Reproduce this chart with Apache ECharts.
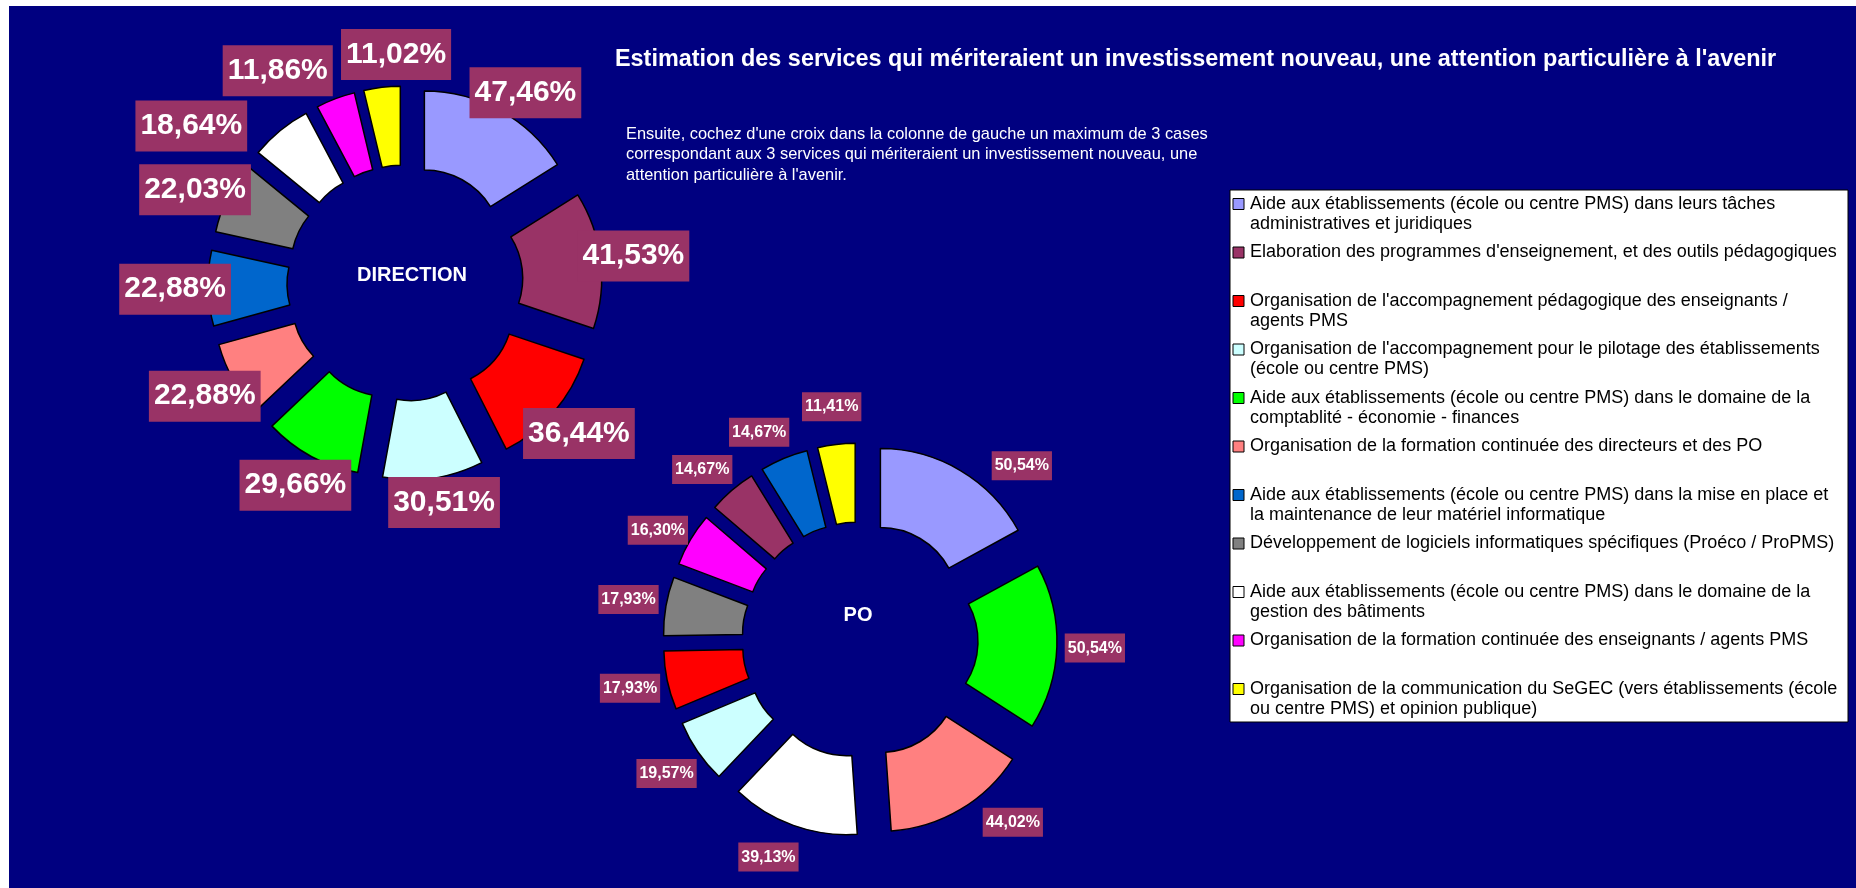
<!DOCTYPE html>
<html>
<head>
<meta charset="utf-8">
<title>Estimation des services</title>
<script src="https://cdn.jsdelivr.net/npm/echarts@6/dist/echarts.min.js"></script>
<style>
  html, body { margin: 0; padding: 0; background: #fff; }
  .page { position: relative; width: 1856px; height: 888px; background: #fff; }
  .navy { position: absolute; left: 9px; top: 6px; right: 0; bottom: 0; background: #000080; }
  #chart { position: absolute; left: 0; top: 0; width: 1856px; height: 888px; }
</style>
</head>
<body>
<div class="page">
  <div class="navy"></div>
  <div id="chart"></div>
</div>
<script>
  // services, in legend order (line breaks as in the legend box)
  var services = [
    "Aide aux établissements (école ou centre PMS) dans leurs tâches\nadministratives et juridiques",
    "Elaboration des programmes d'enseignement, et des outils pédagogiques",
    "Organisation de l'accompagnement pédagogique des enseignants /\nagents PMS",
    "Organisation de l'accompagnement pour le pilotage des établissements\n(école ou centre PMS)",
    "Aide aux établissements (école ou centre PMS) dans le domaine de la\ncomptablité - économie - finances",
    "Organisation de la formation continuée des directeurs et des PO",
    "Aide aux établissements (école ou centre PMS) dans la mise en place et\nla maintenance de leur matériel informatique",
    "Développement de logiciels informatiques spécifiques (Proéco / ProPMS)",
    "Aide aux établissements (école ou centre PMS) dans le domaine de la\ngestion des bâtiments",
    "Organisation de la formation continuée des enseignants / agents PMS",
    "Organisation de la communication du SeGEC (vers établissements (école\nou centre PMS) et opinion publique)"
  ];
  var colors = ['#9999FF', '#993366', '#FF0000', '#CCFFFF', '#00FF00', '#FF8080',
                '#0066CC', '#808080', '#FFFFFF', '#FF00FF', '#FFFF00'];

  // % of answers, same order as services
  var directionValues = [47.46, 41.53, 36.44, 30.51, 29.66, 22.88, 22.88, 22.03, 18.64, 11.86, 11.02];
  var poValues = [50.54, 14.67, 17.93, 19.57, 50.54, 44.02, 14.67, 17.93, 39.13, 16.30, 11.41];

  var titleText = "Estimation des services qui mériteraient un investissement nouveau, une attention particulière à l'avenir";
  var noteText = "Ensuite, cochez d'une croix dans la colonne de gauche un maximum de 3 cases\n" +
                 "correspondant aux 3 services qui mériteraient un investissement nouveau, une\n" +
                 "attention particulière à l'avenir.";

  var FONT = "'Liberation Sans', Arial, sans-serif";
  var LABEL_BG = '#993366';

  // labels moved by hand in the original (service index -> [dx, dy])
  var dirNudge = { 0: [9, 11], 3: [6, -8], 7: [-3, 7], 8: [-68, 21], 9: [-46, 3], 10: [18, 0] };
  var poNudge = { 0: [42, 28], 1: [-5, 8], 5: [33, -20], 6: [-10, 9], 8: [-12, -4], 9: [0, 10] };

  // slices go clockwise from 12 o'clock, biggest first
  function sortIdx(values) {
    var idx = values.map(function (v, i) { return i; });
    idx.sort(function (a, b) { return values[b] - values[a] || a - b; });
    return idx;
  }

  function fmt(v) {
    return v.toFixed(2).replace('.', ',') + '%';
  }

  function ringSeries(values, center) {
    var order = sortIdx(values);
    return {
      type: 'pie',
      center: center,
      radius: [78, 157],
      startAngle: 90,
      clockwise: true,
      selectedMode: 'multiple',
      selectedOffset: 40,
      avoidLabelOverlap: false,
      label: { show: false },
      labelLine: { show: false },
      itemStyle: { borderColor: '#000', borderWidth: 1.5 },
      select: { itemStyle: { borderColor: '#000', borderWidth: 1.5 } },
      emphasis: { disabled: true },
      z: 2,
      data: order.map(function (i) {
        return { name: services[i], value: values[i], selected: true, itemStyle: { color: colors[i] } };
      })
    };
  }

  function labelSeries(values, center, dist, big, nudge) {
    var order = sortIdx(values);
    return {
      type: 'pie',
      center: center,
      radius: [dist - 1, dist + 1],
      startAngle: 90,
      clockwise: true,
      silent: true,
      avoidLabelOverlap: false,
      itemStyle: { color: 'rgba(0,0,0,0)', borderWidth: 0 },
      emphasis: { disabled: true },
      labelLine: { show: false },
      label: {
        show: true,
        position: 'inside',
        formatter: function (p) { return fmt(p.value); },
        color: '#fff',
        fontFamily: FONT,
        fontWeight: 'bold',
        fontSize: big ? 30 : 16,
        lineHeight: big ? 35 : 19,
        padding: big ? [8, 5] : [5, 3],
        backgroundColor: LABEL_BG
      },
      labelLayout: function (p) {
        var n = nudge[order[p.dataIndex]];
        return n ? { dx: n[0], dy: n[1] } : {};
      },
      z: 3,
      data: order.map(function (i) {
        return { name: services[i], value: values[i] };
      })
    };
  }

  // legend box, drawn at Excel's fixed row pitch
  var legendEls = [{
    type: 'rect',
    shape: { x: 1230, y: 190, width: 618, height: 532 },
    style: { fill: '#fff', stroke: '#000', lineWidth: 1 }
  }];
  var rowTop = 204, rowStep = 48.5, lineH = 20;
  services.forEach(function (s, i) {
    var y = rowTop + i * rowStep;
    legendEls.push({
      type: 'rect',
      shape: { x: 1233, y: y - 5.5, width: 11, height: 11 },
      style: { fill: colors[i], stroke: '#000', lineWidth: 1 }
    });
    legendEls.push({
      type: 'text',
      x: 1250,
      y: y - lineH / 2,
      style: {
        text: s, fill: '#000', fontFamily: FONT, fontSize: 18,
        lineHeight: lineH, verticalAlign: 'top', align: 'left'
      }
    });
  });

  var centerTexts = [
    { type: 'text', x: 412, y: 275, style: { text: 'DIRECTION', fill: '#fff', fontFamily: FONT, fontSize: 20, fontWeight: 'bold', align: 'center', verticalAlign: 'middle' } },
    { type: 'text', x: 858, y: 615, style: { text: 'PO', fill: '#fff', fontFamily: FONT, fontSize: 20, fontWeight: 'bold', align: 'center', verticalAlign: 'middle' } }
  ];

  var option = {
    animation: false,
    backgroundColor: 'transparent',
    title: [
      {
        text: titleText, left: 615, top: 46, padding: 0,
        textStyle: { color: '#fff', fontFamily: FONT, fontSize: 23.4, fontWeight: 'bold', lineHeight: 27 }
      },
      {
        text: noteText, left: 626, top: 124, padding: 0,
        textStyle: { color: '#fff', fontFamily: FONT, fontSize: 16.4, fontWeight: 'normal', lineHeight: 20.5 }
      }
    ],
    graphic: { elements: legendEls.concat(centerTexts) },
    series: [
      ringSeries(directionValues, [405, 283]),
      ringSeries(poValues, [860, 640]),
      labelSeries(directionValues, [405, 283], 227, true, dirNudge),
      labelSeries(poValues, [860, 640], 232, false, poNudge)
    ]
  };

  var chart = echarts.init(document.getElementById('chart'));
  chart.setOption(option);
</script>
</body>
</html>
